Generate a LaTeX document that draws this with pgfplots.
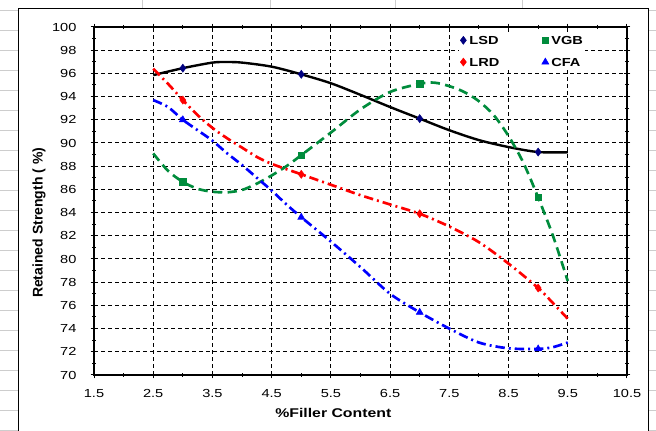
\documentclass[border=0pt]{standalone}
\usepackage{pgfplots}
\pgfplotsset{compat=1.18}
\usepackage{fontspec}
\setmainfont{Liberation Sans}[FakeStretch=1.25]
\newfontfamily\ylabfont{Liberation Sans}
\definecolor{vgb}{RGB}{0,140,60}
\definecolor{lsdm}{RGB}{0,0,128}
\definecolor{xlgrid}{RGB}{205,205,205}
\begin{document}
\begin{tikzpicture}
\useasboundingbox (0pt,0pt) rectangle (492pt,323.25pt);
\begin{scope}[x=0.75pt,y=0.75pt]
\clip (0,0) rectangle (656,431);
\fill[white] (0,0) rectangle (656,431);
\foreach \yy in {11,31,...,431} \draw[xlgrid,line width=0.75pt] (0,{431-\yy}) -- (656,{431-\yy});
\foreach \xx in {142,270,395,522} \draw[xlgrid,line width=0.75pt] (\xx,0) -- (\xx,431);
\draw[fill=white,draw=black,line width=0.75pt] (18,-5) rectangle (648,422);
\end{scope}
\begin{axis}[
  at={(70.5pt,42pt)}, anchor=south west,
  scale only axis, width=399.75pt, height=261pt,
  xmin=1.5, xmax=10.5, ymin=70, ymax=100,
  xtick={1.5,2.5,3.5,4.5,5.5,6.5,7.5,8.5,9.5,10.5},
  xticklabels={1.5,2.5,3.5,4.5,5.5,6.5,7.5,8.5,9.5,10.5},
  ytick={70,72,74,76,78,80,82,84,86,88,90,92,94,96,98,100},
  minor x tick num=1, minor y tick num=1,
  tick align=center, major tick length=5pt, minor tick length=3pt,
  tick style={black, line width=0.75pt},
  axis line style={black, line width=0.9pt},
  grid=major,
  major grid style={black, line width=0.75pt, dash pattern=on 3pt off 2.25pt},
  /pgf/number format/assume math mode=true,
  every tick label/.append style={font=\fontsize{8.75}{10}\selectfont, inner sep=0pt},
  xticklabel style={anchor=center, yshift=-11.5pt},
  yticklabel style={anchor=east, xshift=-10.5pt},
  xlabel={\%Filler Content},
  xlabel style={at={(axis description cs:0.449,-0.109)}, anchor=center, font=\bfseries\fontsize{9.5}{11}\selectfont},
  ylabel={\ylabfont\bfseries\fontsize{10.5}{12}\selectfont Retained Strength ( \%)},
  ylabel style={at={(axis description cs:-0.103,0.437)}, anchor=center},
  legend columns=2,
  legend cell align=left,
  legend image code/.code={\path[draw=none,fill=none] (0pt,-3pt) rectangle (6pt,3pt); \draw[#1] plot coordinates {(3pt,0pt)};},
  legend style={at={(0.685,0.980)}, anchor=north west, draw=none, fill=white,
    inner sep=0pt, row sep=7.2pt,
    font=\bfseries\fontsize{8.75}{10}\selectfont,
    nodes={inner sep=1.5pt, text depth=0pt}},
  /tikz/every even column/.append style={column sep=30pt},
]
% LSD line
\addplot[black, line width=1.8pt, smooth, forget plot] coordinates {
(2.5,95.85) (3.0,96.45) (3.5,96.93) (3.75,96.98) (4.0,96.93) (4.5,96.58) (5.0,95.92) (5.5,95.15) (6.0,94.15) (6.5,93.1) (7.0,92.1) (7.5,91.1) (8.0,90.25) (8.5,89.65) (9.0,89.22) (9.5,89.2)};
% VGB line
\addplot[vgb, line width=2pt, smooth, dash pattern=on 7pt off 4pt, forget plot] coordinates {
(2.5,89.1) (2.75,87.6) (3.0,86.65) (3.25,86.05) (3.5,85.8) (3.75,85.75) (4.0,85.95) (4.25,86.5) (4.5,87.2) (4.75,88.0) (5.0,88.95) (5.5,90.9) (6.0,92.9) (6.5,94.4) (7.0,95.1) (7.25,95.2) (7.5,94.9) (7.75,94.4) (8.0,93.6) (8.25,92.4) (8.5,90.6) (8.75,88.3) (9.0,85.3) (9.25,82.0) (9.5,78.1)};
% LRD line
\addplot[red, line width=2pt, smooth, dash pattern=on 7pt off 3pt on 1.5pt off 3pt, forget plot] coordinates {
(2.5,96.4) (2.75,95.1) (3.0,93.7) (3.25,92.4) (3.5,91.3) (3.75,90.4) (4.0,89.6) (4.25,88.8) (4.5,88.2) (5.0,87.3) (5.5,86.4) (6.0,85.5) (6.5,84.7) (7.0,83.9) (7.5,82.8) (8.0,81.45) (8.5,79.6) (9.0,77.5) (9.25,76.2) (9.5,74.85)};
% CFA line
\addplot[blue, line width=2pt, smooth, dash pattern=on 7pt off 3pt on 1.5pt off 3pt, forget plot] coordinates {
(2.5,93.7) (2.75,93.1) (3.0,92.0) (3.25,91.1) (3.5,90.2) (3.75,89.1) (4.0,88.1) (4.25,87.0) (4.5,85.9) (4.75,84.7) (5.0,83.6) (5.5,81.5) (6.0,79.3) (6.5,77.0) (7.0,75.4) (7.5,74.0) (8.0,72.8) (8.5,72.3) (9.0,72.25) (9.25,72.4) (9.5,72.8)};
% markers
\addplot[only marks, mark=diamond*, mark size=3pt, draw=lsdm, fill=lsdm] coordinates {(3,96.45) (5,95.92) (7,92.1) (9,89.22)};
\addlegendentry{LSD}
\addplot[only marks, mark=square*, mark size=2.4pt, draw=vgb, fill=vgb] coordinates {(3,86.65) (5,88.95) (7,95.1) (9,85.3)};
\addlegendentry{VGB}
\addplot[only marks, mark=diamond*, mark size=3pt, draw=red, fill=red] coordinates {(3,93.7) (5,87.3) (7,83.9) (9,77.5)};
\addlegendentry{LRD}
\addplot[only marks, mark=triangle*, mark size=3pt, draw=blue, fill=blue] coordinates {(3,92.0) (5,83.6) (7,75.4) (9,72.25)};
\addlegendentry{CFA}
\end{axis}
\end{tikzpicture}
\end{document}
